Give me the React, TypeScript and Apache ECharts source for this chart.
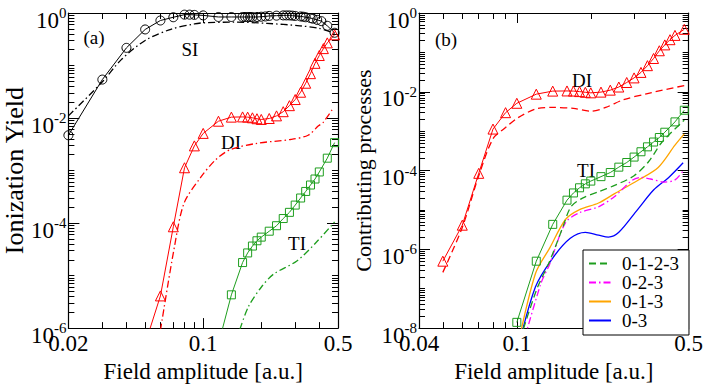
import React, { useEffect, useRef } from "react";
import * as echarts from "echarts";

const SERIF = "'Liberation Serif', 'DejaVu Serif', serif";

// ---------- Panel (a) ----------
const siX = [0.02, 0.03, 0.04, 0.05, 0.06, 0.07, 0.08, 0.085, 0.09, 0.1, 0.12, 0.14, 0.16, 0.165, 0.17, 0.175, 0.18, 0.19, 0.2, 0.21, 0.22, 0.24, 0.26, 0.27, 0.28, 0.29, 0.3, 0.32, 0.33, 0.34, 0.36, 0.37, 0.39, 0.41, 0.44, 0.48];
const siY = [0.0047, 0.054, 0.217, 0.486, 0.72, 0.83, 0.93, 0.93, 0.92, 0.9, 0.84, 0.84, 0.84, 0.84, 0.84, 0.84, 0.84, 0.84, 0.85, 0.86, 0.88, 0.89, 0.9, 0.9, 0.9, 0.89, 0.88, 0.86, 0.85, 0.83, 0.8, 0.78, 0.74, 0.7, 0.57, 0.42];
const siDashX = [0.02, 0.03, 0.0375, 0.05, 0.068, 0.09, 0.1, 0.144, 0.214, 0.317, 0.4, 0.48];
const siDashY = [0.011, 0.049, 0.128, 0.3, 0.49, 0.62, 0.65, 0.67, 0.635, 0.57, 0.51, 0.41];

const diX = [0.05, 0.06, 0.07, 0.08, 0.09, 0.1, 0.12, 0.14, 0.16, 0.17, 0.18, 0.19, 0.2, 0.22, 0.24, 0.26, 0.28, 0.3, 0.32, 0.34, 0.36, 0.38, 0.4, 0.42, 0.44, 0.48];
const diY = [5e-7, 4.1e-6, 8.5e-5, 1.13e-3, 2.95e-3, 5.1e-3, 8.7e-3, 0.0104, 0.0105, 0.0104, 0.0101, 0.0097, 0.0094, 0.0098, 0.011, 0.0132, 0.0172, 0.0225, 0.031, 0.046, 0.07, 0.11, 0.155, 0.21, 0.27, 0.385];
const diDashDotX = [0.06, 0.0707, 0.0796, 0.097, 0.116, 0.138, 0.19, 0.283, 0.35, 0.396, 0.418, 0.472];
const diDashDotY = [9e-7, 3.3e-5, 2.4e-4, 7.4e-4, 1.6e-3, 2.5e-3, 3.3e-3, 3.9e-3, 4.7e-3, 7.1e-3, 8.2e-3, 0.0154];

const tiX = [0.1, 0.12, 0.14, 0.16, 0.17, 0.18, 0.19, 0.2, 0.22, 0.24, 0.26, 0.28, 0.3, 0.32, 0.34, 0.36, 0.38, 0.4, 0.44, 0.48];
const tiY = [1.4e-8, 5e-7, 4.3e-6, 1.77e-5, 2.7e-5, 3.65e-5, 4.6e-5, 5.4e-5, 7e-5, 8.9e-5, 1.22e-4, 1.6e-4, 2.2e-4, 3e-4, 4e-4, 5.3e-4, 6.9e-4, 9.4e-4, 1.72e-3, 3.4e-3];
const tiDashDotX = [0.155, 0.172, 0.2, 0.232, 0.306, 0.388, 0.48];
const tiDashDotY = [9.5e-7, 2.6e-6, 6e-6, 1.07e-5, 1.9e-5, 4.4e-5, 1.05e-4];

// ---------- Panel (b) ----------
const diDashedX = [0.05, 0.06, 0.07, 0.08, 0.09, 0.1, 0.12, 0.14, 0.17, 0.2, 0.23, 0.27, 0.34, 0.48];
const diDashedY = [2.6e-7, 3.6e-6, 7.4e-5, 6.4e-4, 1.24e-3, 2.1e-3, 3.7e-3, 4.0e-3, 3.8e-3, 3.2e-3, 4.0e-3, 6.2e-3, 9e-3, 0.0144];
const p0123X = [0.1, 0.12, 0.136, 0.153, 0.166, 0.185, 0.215, 0.25, 0.3, 0.344, 0.39, 0.48];
const p0123Y = [2.8e-9, 9e-8, 5e-7, 3.3e-6, 1.2e-5, 2e-5, 2.9e-5, 4.2e-5, 7.4e-5, 1.7e-4, 5.3e-4, 1.9e-3];
const p023X = [0.1, 0.125, 0.136, 0.158, 0.18, 0.215, 0.25, 0.294, 0.32, 0.35, 0.4, 0.44, 0.475];
const p023Y = [1.1e-9, 1.3e-7, 4.2e-7, 4.8e-6, 8.5e-6, 1.2e-5, 2.2e-5, 5.6e-5, 6.7e-5, 6.1e-5, 5.1e-5, 5.8e-5, 9.8e-5];
const p013X = [0.1, 0.119, 0.136, 0.158, 0.18, 0.215, 0.25, 0.31, 0.376, 0.44, 0.48];
const p013Y = [2.7e-9, 2.4e-7, 1.07e-6, 5.8e-6, 1.02e-5, 1.5e-5, 2.6e-5, 5.6e-5, 1.2e-4, 4.4e-4, 8.5e-4];
const p03X = [0.1, 0.119, 0.14, 0.165, 0.19, 0.215, 0.236, 0.26, 0.31, 0.36, 0.415, 0.475];
const p03Y = [2.3e-9, 1.1e-7, 6e-7, 1.9e-6, 2.7e-6, 2.3e-6, 2.05e-6, 2.7e-6, 1.02e-5, 3.2e-5, 6.7e-5, 1.58e-4];

const legendNames = ["0-1-2-3", "0-2-3", "0-1-3", "0-3"];

// ---------- Axes ----------
const xLabelsA = [0.02, 0.1, 0.5];
const xLabelsB = [0.04, 0.1, 0.5];
const xMajor = [0.1];
const xMinorA = [0.03, 0.04, 0.05, 0.06, 0.07, 0.08, 0.09, 0.2, 0.3, 0.4];
const xMinorB = [0.05, 0.06, 0.07, 0.08, 0.09, 0.2, 0.3, 0.4];
const yLabelsA = [1e-6, 1e-4, 1e-2, 1];
const yLabelsB = [1e-8, 1e-6, 1e-4, 1e-2, 1];

function yMinor(lowExp: number): number[] {
  const out: number[] = [];
  for (let k = lowExp; k < 0; k++) {
    if ((k - lowExp) % 2 === 1) out.push(Math.pow(10, k));
    for (let m = 2; m <= 9; m++) out.push(m * Math.pow(10, k));
  }
  return out;
}

const BLACK = "#000";
const RED = "#ff0000";
const GREEN = "#1e9e1e";
const MAGENTA = "#ff00ff";
const ORANGE = "#ffa500";
const BLUE = "#0000ff";
const DASHDOT = [7, 3, 1.5, 3];
const DASHED = [7, 4];

const zip = (xs: number[], ys: number[]) => xs.map((x, i) => [x, ys[i]]);

function xAxes(grid: number, min: number, max: number, labels: number[], minor: number[]) {
  const base: any = {
    type: "log", logBase: 10, gridIndex: grid, min, max,
    splitLine: { show: false },
    axisLine: { onZero: false, lineStyle: { color: BLACK, width: 1.2 } },
  };
  return [
    {
      ...base, position: "bottom",
      name: "Field amplitude [a.u.]", nameLocation: "middle", nameGap: 27,
      nameTextStyle: { fontFamily: SERIF, fontSize: 23, color: BLACK },
      axisTick: { inside: true, length: 10, customValues: xMajor, lineStyle: { color: BLACK } },
      axisLabel: {
        customValues: labels, margin: 4, fontFamily: SERIF, fontSize: 23, color: BLACK,
        formatter: (v: number) => String(+Number(v).toPrecision(3)),
      },
    },
    { ...base, position: "top", axisTick: { inside: true, length: 10, customValues: xMajor, lineStyle: { color: BLACK } }, axisLabel: { show: false } },
    { ...base, position: "bottom", axisLine: { show: false, onZero: false }, axisTick: { inside: true, length: 6, customValues: minor, lineStyle: { color: BLACK } }, axisLabel: { show: false } },
    { ...base, position: "top", axisLine: { show: false, onZero: false }, axisTick: { inside: true, length: 6, customValues: minor, lineStyle: { color: BLACK } }, axisLabel: { show: false } },
  ];
}

function yAxes(grid: number, min: number, labels: number[], minor: number[], name: string, nameSize: number, nameGap: number) {
  const base: any = {
    type: "log", logBase: 10, gridIndex: grid, min, max: 1,
    splitLine: { show: false },
    axisLine: { onZero: false, lineStyle: { color: BLACK, width: 1.2 } },
  };
  return [
    {
      ...base, position: "left",
      name, nameLocation: "middle", nameGap,
      nameTextStyle: { fontFamily: SERIF, fontSize: nameSize, color: BLACK },
      axisTick: { inside: true, length: 11, customValues: labels, lineStyle: { color: BLACK } },
      axisLabel: {
        customValues: labels, margin: 2, color: BLACK, padding: [11, 0, 0, 0],
        formatter: (v: number) => `{b|10}{s|${Math.round(Math.log10(v))}}`,
        rich: {
          b: { fontFamily: SERIF, fontSize: 23, color: BLACK, padding: [3, 0, 0, 0] },
          s: { fontFamily: SERIF, fontSize: 15, color: BLACK, verticalAlign: "top" },
        },
      },
    },
    { ...base, position: "right", axisTick: { inside: true, length: 11, customValues: labels, lineStyle: { color: BLACK } }, axisLabel: { show: false } },
    { ...base, position: "left", axisLine: { show: false, onZero: false }, axisTick: { inside: true, length: 6, customValues: minor, lineStyle: { color: BLACK } }, axisLabel: { show: false } },
    { ...base, position: "right", axisLine: { show: false, onZero: false }, axisTick: { inside: true, length: 6, customValues: minor, lineStyle: { color: BLACK } }, axisLabel: { show: false } },
  ];
}

function markerSeries(name: string, xs: number[], ys: number[], color: string, symbol: string, size: number, ai: number) {
  return {
    name, type: "line", xAxisIndex: ai, yAxisIndex: ai, data: zip(xs, ys),
    symbol, symbolSize: size, showSymbol: true, clip: true, z: 4,
    lineStyle: { color, width: 1 },
    itemStyle: { color: "rgba(0,0,0,0)", borderColor: color, borderWidth: 1 },
    emphasis: { disabled: true },
  };
}

function curveSeries(name: string, xs: number[], ys: number[], color: string, type: any, ai: number) {
  return {
    name, type: "line", xAxisIndex: ai, yAxisIndex: ai, data: zip(xs, ys),
    symbol: "circle", showSymbol: false, smooth: 0.3, clip: true, z: 3,
    lineStyle: { color, width: 1.3, type },
    itemStyle: { color },
    emphasis: { disabled: true },
  };
}

function text(t: string, x: number, y: number, size = 19) {
  return {
    type: "text", x, y, silent: true,
    style: { text: t, fontFamily: SERIF, fontSize: size, fill: BLACK, align: "center", verticalAlign: "middle" },
  };
}

export default function App() {
  const ref = useRef<HTMLDivElement>(null);
  useEffect(() => {
    if (!ref.current) return;
    const chart = echarts.init(ref.current, null, { renderer: "svg" });
    const option: any = {
      animation: false,
      backgroundColor: "#fff",
      grid: [
        { left: 67, top: 13, width: 271, height: 326 },
        { left: 419, top: 13, width: 272, height: 326 },
      ],
      xAxis: [...xAxes(0, 0.02, 0.5, xLabelsA, xMinorA), ...xAxes(1, 0.04, 0.5, xLabelsB, xMinorB)],
      yAxis: [
        ...yAxes(0, 1e-6, yLabelsA, yMinor(-6), "Ionization Yield", 26, 40),
        ...yAxes(1, 1e-8, yLabelsB, yMinor(-8), "Contributing processes", 22, 45),
      ],
      legend: {
        data: legendNames, orient: "vertical", left: 583, top: 250,
        itemWidth: 22, itemHeight: 12, itemGap: 0,
        padding: [4, 10, 5, 5],
        borderColor: BLACK, borderWidth: 1, backgroundColor: "#fff",
        itemStyle: { opacity: 0 },
        selectedMode: false,
        textStyle: { fontFamily: SERIF, fontSize: 19, color: BLACK, lineHeight: 18, padding: [0, 0, 0, 6] },
      },
      series: [
        // panel (a)
        curveSeries("SI model", siDashX, siDashY, BLACK, DASHDOT, 0),
        markerSeries("SI", siX, siY, BLACK, "circle", 9, 0),
        curveSeries("DI model", diDashDotX, diDashDotY, RED, DASHDOT, 0),
        markerSeries("DI", diX, diY, RED, "triangle", 10, 0),
        curveSeries("TI model", tiDashDotX, tiDashDotY, GREEN, DASHDOT, 0),
        markerSeries("TI", tiX, tiY, GREEN, "rect", 8, 0),
        // panel (b)
        curveSeries("DI dominant", diDashedX, diDashedY, RED, DASHED, 4),
        markerSeries("DI (b)", diX, diY, RED, "triangle", 10, 4),
        curveSeries("0-3", p03X, p03Y, BLUE, "solid", 4),
        curveSeries("0-1-3", p013X, p013Y, ORANGE, "solid", 4),
        curveSeries("0-2-3", p023X, p023Y, MAGENTA, DASHDOT, 4),
        curveSeries("0-1-2-3", p0123X, p0123Y, GREEN, DASHED, 4),
        markerSeries("TI (b)", tiX, tiY, GREEN, "rect", 8, 4),
      ],
      graphic: [
        text("(a)", 94, 37),
        text("SI", 190, 49),
        text("DI", 231, 142),
        text("TI", 297, 243),
        text("(b)", 446, 39),
        text("DI", 582, 80),
        text("TI", 586, 170),
      ],
    };
    chart.setOption(option);
    return () => chart.dispose();
  }, []);
  return <div ref={ref} style={{ position: "absolute", left: 0, top: 0, width: 706, height: 388 }} />;
}
